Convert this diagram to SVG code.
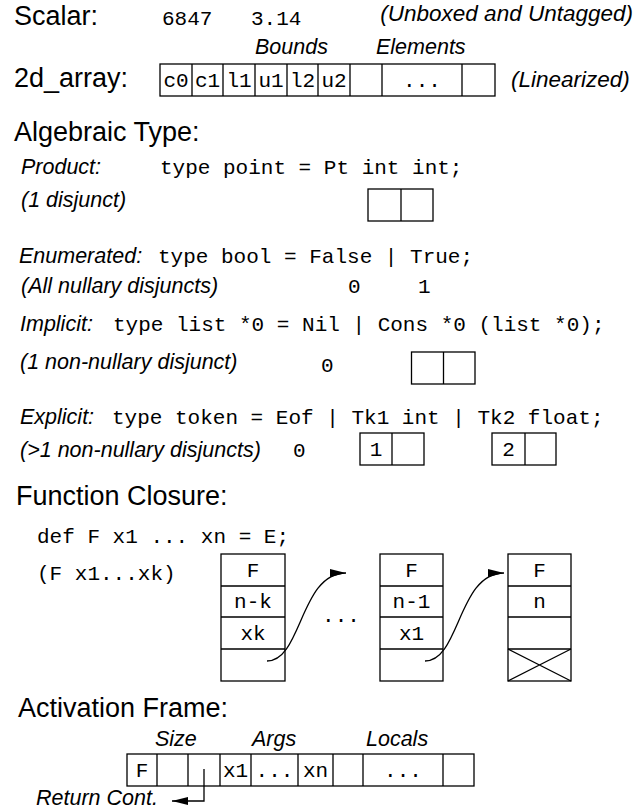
<svg xmlns="http://www.w3.org/2000/svg" width="641" height="812" viewBox="0 0 641 812">
<style>
.t{font-family:"Liberation Sans",Arial,sans-serif;font-size:27px;fill:#000}
.l{font-family:"Liberation Sans",Arial,sans-serif;font-size:21.5px;font-style:italic;fill:#000}
.p{font-size:22.5px}
.m{font-family:"Liberation Mono","Courier New",monospace;font-size:21px;fill:#000}
.c{text-anchor:middle}
.b{fill:none;stroke:#000;stroke-width:1.3}
.k{fill:none;stroke:#000;stroke-width:1.3}
</style>
<defs>
<marker id="ah" viewBox="0 0 16 8" refX="16" refY="4" markerWidth="16" markerHeight="8" markerUnits="userSpaceOnUse" orient="auto">
<path d="M0,0 L16,4 L0,8 z" fill="#000"/>
</marker>
</defs>
<rect width="641" height="812" fill="#fff"/>

<g id="scalar">
<text class="t" x="14" y="25">Scalar:</text>
<text class="m" x="162" y="25">6847</text>
<text class="m" x="251" y="25">3.14</text>
<text class="l p" x="633" y="21" text-anchor="end">(Unboxed and Untagged)</text>
</g>

<g id="array2d">
<text class="t" x="14" y="87">2d_array:</text>
<text class="l" x="255" y="54">Bounds</text>
<text class="l" x="376" y="54">Elements</text>
<rect class="b" x="160" y="64" width="335" height="32"/>
<path class="b" d="M192,64V96M223,64V96M255,64V96M287,64V96M318,64V96M350,64V96M382,64V96M462,64V96"/>
<text class="m c" x="176" y="87">c0</text>
<text class="m c" x="207.5" y="87">c1</text>
<text class="m c" x="239" y="87">l1</text>
<text class="m c" x="271" y="87">u1</text>
<text class="m c" x="302.5" y="87">l2</text>
<text class="m c" x="334" y="87">u2</text>
<text class="m c" x="422" y="87">...</text>
<text class="l p" x="511" y="87">(Linearized)</text>
</g>

<g id="algebraic">
<text class="t" x="14" y="141">Algebraic Type:</text>
</g>

<g id="product">
<text class="l" x="21" y="174">Product:</text>
<text class="m" x="160" y="174">type point = Pt int int;</text>
<text class="l" x="21" y="207">(1 disjunct)</text>
<rect class="b" x="368" y="189" width="65" height="32"/>
<path class="b" d="M401,189V221"/>
</g>

<g id="enumerated">
<text class="l" x="19" y="263">Enumerated:</text>
<text class="m" x="158" y="263">type bool = False | True;</text>
<text class="l" x="21" y="293">(All nullary disjuncts)</text>
<text class="m" x="348" y="293">0</text>
<text class="m" x="418" y="293">1</text>
</g>

<g id="implicit">
<text class="l" x="20" y="331">Implicit:</text>
<text class="m" x="113" y="331">type list *0 = Nil | Cons *0 (list *0);</text>
<text class="l" x="20" y="369">(1 non-nullary disjunct)</text>
<text class="m" x="321" y="372">0</text>
<rect class="b" x="411.5" y="352" width="63.5" height="32"/>
<path class="b" d="M443.5,352V384"/>
</g>

<g id="explicit">
<text class="l" x="20" y="424">Explicit:</text>
<text class="m" x="112" y="424">type token = Eof | Tk1 int | Tk2 float;</text>
<text class="l" x="20" y="457">(&gt;1 non-nullary disjuncts)</text>
<text class="m" x="293" y="457">0</text>
<rect class="b" x="360" y="433" width="64" height="32"/>
<path class="b" d="M392,433V465"/>
<text class="m c" x="376" y="456">1</text>
<rect class="b" x="492" y="433" width="64" height="32"/>
<path class="b" d="M525,433V465"/>
<text class="m c" x="508.5" y="456">2</text>
</g>

<g id="closure-title">
<text class="t" x="16" y="505">Function Closure:</text>
<text class="m" x="37" y="543">def F x1 ... xn = E;</text>
<text class="m" x="37" y="580">(F x1...xk)</text>
</g>

<g id="closure1">
<rect class="b" x="221" y="554" width="64" height="127"/>
<path class="b" d="M221,586H285M221,617H285M221,649H285"/>
<text class="m c" x="253" y="577">F</text>
<text class="m c" x="253" y="608">n-k</text>
<text class="m c" x="253" y="640">xk</text>
</g>

<text class="m c" x="341" y="622">...</text>

<g id="closure2">
<rect class="b" x="380" y="554" width="63" height="127"/>
<path class="b" d="M380,586H443M380,617H443M380,649H443"/>
<text class="m c" x="411.5" y="577">F</text>
<text class="m c" x="411.5" y="608">n-1</text>
<text class="m c" x="411.5" y="640">x1</text>
</g>

<g id="closure3">
<rect class="b" x="508" y="554" width="63" height="127"/>
<path class="b" d="M508,586H571M508,617H571M508,649H571"/>
<path class="b" d="M508,649L571,681M508,681L571,649"/>
<text class="m c" x="539.5" y="577">F</text>
<text class="m c" x="539.5" y="608">n</text>
</g>

<g id="frame">
<text class="t" x="18" y="717">Activation Frame:</text>
<text class="l" x="155" y="746">Size</text>
<text class="l" x="252" y="746">Args</text>
<text class="l" x="366" y="746">Locals</text>
<rect class="b" x="127" y="754" width="347" height="32"/>
<path class="b" d="M157,754V786M188,754V786M220,754V786M251,754V786M298,754V786M333,754V786M363,754V786M443,754V786"/>
<text class="m c" x="142" y="777">F</text>
<text class="m c" x="235.5" y="777">x1</text>
<text class="m c" x="274.5" y="777">...</text>
<text class="m c" x="315.5" y="777">xn</text>
<text class="m c" x="403" y="777">...</text>
<text class="l" x="36" y="805">Return Cont.</text>
</g>

<g id="connectors">
<path class="k" d="M267,661 C302,661 300,573 346,573" marker-end="url(#ah)"/>
<path class="k" d="M425,661 C460,661 458,573 504,573" marker-end="url(#ah)"/>
<path class="k" d="M204,769 V801 H172" marker-end="url(#ah)"/>
</g>
</svg>
